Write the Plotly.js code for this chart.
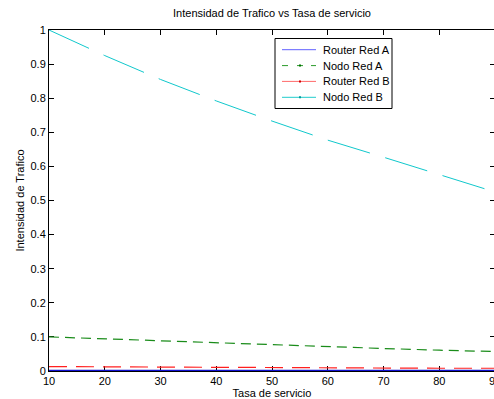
<!DOCTYPE html>
<html>
<head>
<meta charset="utf-8">
<script src="https://cdn.plot.ly/plotly-3.0.1.min.js"></script>
<style>
html,body{margin:0;padding:0;overflow:hidden;background:#fff;width:494px;height:399px;}
#chart{width:520px;height:399px;}
</style>
</head>
<body>
<div id="chart"></div>
<script>
// Data
const tasa = [10, 20, 30, 40, 50, 60, 70, 80, 90];
const routerRedA = [0.0008, 0.0007, 0.0006, 0.0006, 0.0005, 0.0005, 0.0004, 0.0004, 0.0004];
const nodoRedA = [0.100, 0.094, 0.089, 0.083, 0.077, 0.072, 0.066, 0.061, 0.057];
const routerRedB = [0.013, 0.012, 0.011, 0.010, 0.010, 0.009, 0.009, 0.008, 0.008];
const nodoRedB = [1.000, 0.925, 0.855, 0.792, 0.733, 0.677, 0.627, 0.577, 0.525];
const seriesNames = ['Router Red A', 'Nodo Red A', 'Router Red B', 'Nodo Red B'];
const yTicks = [0, 0.1, 0.2, 0.3, 0.4, 0.5, 0.6, 0.7, 0.8, 0.9, 1];
const yTickText = ['0', '0.1', '0.2', '0.3', '0.4', '0.5', '0.6', '0.7', '0.8', '0.9', '1'];
const xTicks = [10, 20, 30, 40, 50, 60, 70, 80, 90];

const FONT = 'Liberation Sans, Arial, Helvetica, sans-serif';

// plot area in pixels (for legend placement only)
const PL = 49, PR = 495, PT = 30, PB = 371;
const px = v => (v - PL) / (PR - PL);
const py = v => (PB - v) / (PB - PT);

const traces = [
  {x: tasa, y: nodoRedB, mode: 'lines', name: seriesNames[3],
   line: {color: '#10c8cc', width: 1, dash: '44px,16px'}},
  {x: tasa, y: nodoRedA, mode: 'lines', name: seriesNames[1],
   line: {color: '#1a8c1a', width: 1.2, dash: '10px,6px'}},
  {x: tasa, y: routerRedB, mode: 'lines', name: seriesNames[2],
   line: {color: '#ff2020', width: 1.2, dash: '18px,9px'}},
  {x: tasa, y: routerRedA, mode: 'lines', name: seriesNames[0],
   line: {color: '#1010d0', width: 2}}
];

// Manual legend (MATLAB-style compact box)
const legendStyles = [
  {line: '#6060ff', dash: 'solid', marker: null},
  {line: '#2a9a2a', dash: 'dash', marker: '#007000'},
  {line: '#ff6a6a', dash: 'solid', marker: '#d00000'},
  {line: '#20cccc', dash: 'solid', marker: '#009a9a'}
];
const rowY = [49.7, 65.6, 81.4, 97.3];
const shapes = [
  {type: 'rect', xref: 'paper', yref: 'paper', x0: px(275), x1: px(392), y0: py(108.5), y1: py(38.5),
   line: {color: '#000', width: 1}, fillcolor: '#ffffff', layer: 'above'}
];
const annotations = [];
seriesNames.forEach((n, i) => {
  const st = legendStyles[i];
  if (st.dash === 'dash') {
    [[282, 288], [297, 303], [311, 316]].forEach(seg => shapes.push(
      {type: 'line', xref: 'paper', yref: 'paper', x0: px(seg[0]), x1: px(seg[1]), y0: py(rowY[i]), y1: py(rowY[i]),
       line: {color: st.line, width: 1}, layer: 'above'}));
  } else {
    shapes.push({type: 'line', xref: 'paper', yref: 'paper', x0: px(282), x1: px(316), y0: py(rowY[i]), y1: py(rowY[i]),
                 line: {color: st.line, width: 1}, layer: 'above'});
  }
  if (st.marker) {
    shapes.push({type: 'rect', xref: 'paper', yref: 'paper', x0: px(299), x1: px(301), y0: py(rowY[i] + 1), y1: py(rowY[i] - 1),
                 line: {width: 0}, fillcolor: st.marker, layer: 'above'});
  }
  annotations.push({text: n, xref: 'paper', yref: 'paper', x: px(321), y: py(rowY[i]), xanchor: 'left', yanchor: 'middle',
                    showarrow: false, font: {family: FONT, size: 11, color: '#000'}});
});

const layout = {
  width: 520, height: 399,
  margin: {l: PL, r: 520 - PR, t: PT, b: 399 - PB, pad: 0},
  paper_bgcolor: '#ffffff', plot_bgcolor: '#ffffff',
  font: {family: FONT, size: 11, color: '#000'},
  showlegend: false,
  title: {text: 'Intensidad de Trafico vs Tasa de servicio', font: {family: FONT, size: 11, color: '#000'},
          x: 0.5, xref: 'paper', y: 1 - 13/399, yref: 'container', yanchor: 'middle'},
  xaxis: {range: [10, 90], tickvals: xTicks, ticks: 'inside', ticklen: 5, tickcolor: '#000',
          showline: true, linecolor: '#000', linewidth: 1, mirror: 'ticks', showgrid: false, zeroline: false,
          layer: 'below traces', automargin: false,
          tickfont: {family: FONT, size: 11, color: '#000'},
          title: {text: 'Tasa de servicio', font: {family: FONT, size: 11, color: '#000'}, standoff: 2}},
  yaxis: {range: [0, 1], tickvals: yTicks, ticktext: yTickText, ticks: 'inside', ticklen: 5, tickcolor: '#000',
          showline: true, linecolor: '#000', linewidth: 1, mirror: 'ticks', showgrid: false, zeroline: false,
          layer: 'below traces', automargin: false,
          tickfont: {family: FONT, size: 11, color: '#000'},
          title: {text: 'Intensidad de Trafico', font: {family: FONT, size: 11, color: '#000'}, standoff: 3}},
  shapes: shapes,
  annotations: annotations
};

Plotly.newPlot('chart', traces, layout, {staticPlot: true, displayModeBar: false});
</script>
</body>
</html>
